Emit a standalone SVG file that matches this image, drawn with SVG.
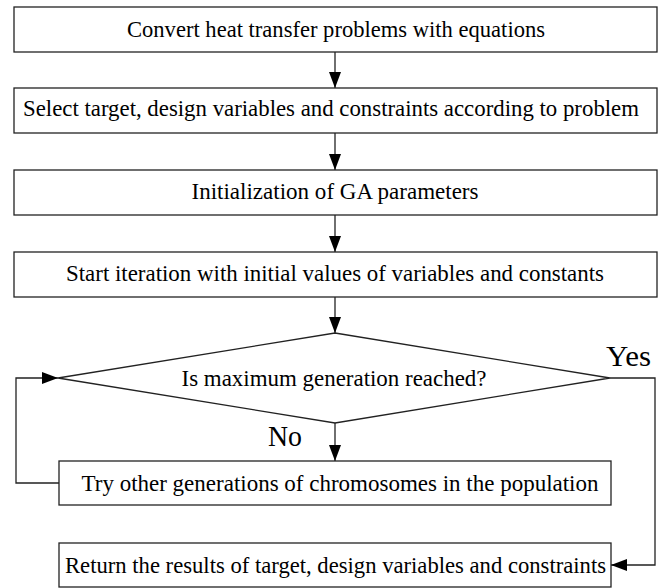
<svg xmlns="http://www.w3.org/2000/svg" width="664" height="588" viewBox="0 0 664 588">
<defs>
<style>
.box{fill:#fff;stroke:#222;stroke-width:1.3}
.t{font-family:'Liberation Serif','Times New Roman',serif;font-size:23.5px;fill:#000;text-anchor:middle}
.lbl{font-family:'Liberation Serif','Times New Roman',serif;font-size:30px;fill:#000}
.c{fill:none;stroke:#222;stroke-width:1.3}
</style>
<marker id="ah" markerWidth="16" markerHeight="12" viewBox="0 0 16 12" refX="16" refY="6" orient="auto" markerUnits="userSpaceOnUse">
<path d="M0,0 L16,6 L0,12 Z" fill="#000"/>
</marker>
</defs>
<rect width="664" height="588" fill="#fff"/>
<g id="connectors">
<line class="c" x1="335" y1="52" x2="335" y2="88" marker-end="url(#ah)"/>
<line class="c" x1="335" y1="133" x2="335" y2="170" marker-end="url(#ah)"/>
<line class="c" x1="335" y1="215" x2="335" y2="252" marker-end="url(#ah)"/>
<line class="c" x1="335" y1="297" x2="335" y2="333" marker-end="url(#ah)"/>
<line class="c" x1="335" y1="423" x2="335" y2="461" marker-end="url(#ah)"/>
<polyline class="c" points="59,483 16,483 16,378 58,378" marker-end="url(#ah)"/>
<polyline class="c" points="610,378 655,378 655,565 611,565" marker-end="url(#ah)"/>
</g>
<g id="n1"><rect class="box" x="14" y="7" width="643" height="45"/><text class="t" x="336" y="37" textLength="418" lengthAdjust="spacingAndGlyphs">Convert heat transfer problems with equations</text></g>
<g id="n2"><rect class="box" x="14" y="88" width="643" height="45"/><text class="t" x="331" y="116" textLength="616" lengthAdjust="spacingAndGlyphs">Select target, design variables and constraints according to problem</text></g>
<g id="n3"><rect class="box" x="14" y="170" width="643" height="45"/><text class="t" x="335" y="199" textLength="287" lengthAdjust="spacingAndGlyphs">Initialization of GA parameters</text></g>
<g id="n4"><rect class="box" x="14" y="252" width="643" height="45"/><text class="t" x="335" y="281" textLength="538" lengthAdjust="spacingAndGlyphs">Start iteration with initial values of variables and constants</text></g>
<g id="n5"><polygon class="box" points="335,333 610,378 335,423 58,378"/><text class="t" x="334" y="386" textLength="305" lengthAdjust="spacingAndGlyphs">Is maximum generation reached?</text></g>
<g id="n6"><rect class="box" x="59" y="461" width="552" height="44"/><text class="t" x="340" y="491" textLength="517" lengthAdjust="spacingAndGlyphs">Try other generations of chromosomes in the population</text></g>
<g id="n7"><rect class="box" x="59" y="543" width="552" height="44"/><text class="t" x="335.5" y="573" textLength="541" lengthAdjust="spacingAndGlyphs">Return the results of target, design variables and constraints</text></g>
<g id="labels">
<text class="lbl" x="606" y="366" textLength="45" lengthAdjust="spacingAndGlyphs">Yes</text>
<text class="lbl" x="268" y="446" textLength="34" lengthAdjust="spacingAndGlyphs">No</text>
</g>
</svg>
